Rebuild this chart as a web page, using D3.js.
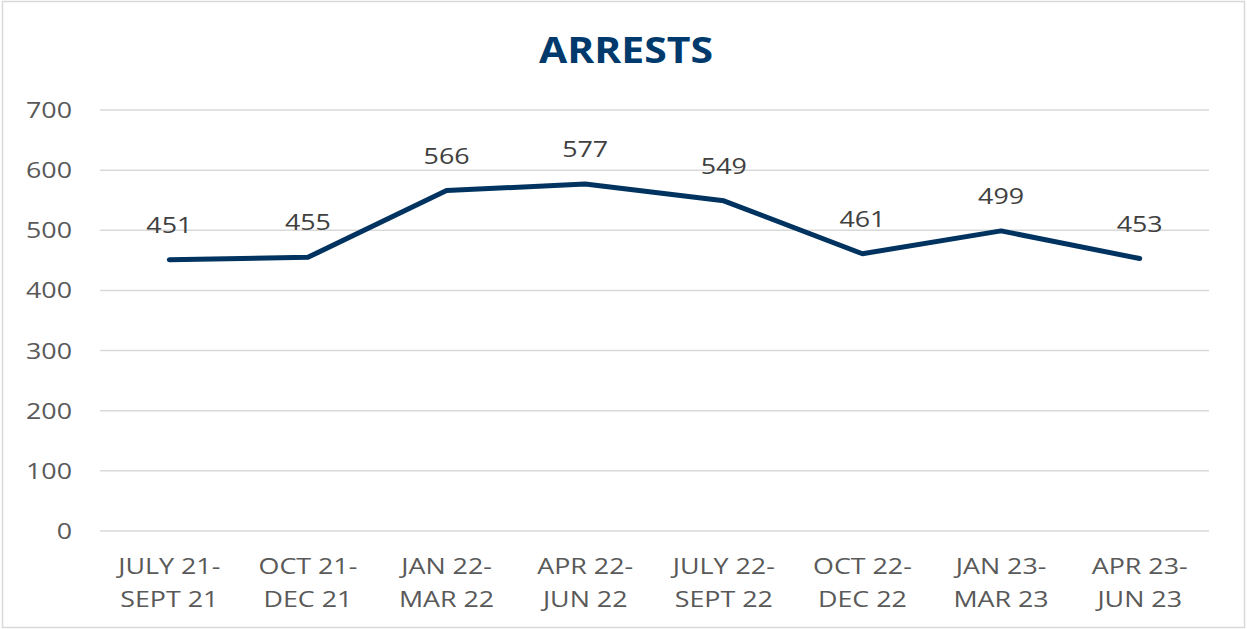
<!DOCTYPE html>
<html>
<head>
<meta charset="utf-8">
<script src="https://cdn.jsdelivr.net/npm/d3@7"></script>
<style>
  body { margin: 0; background: #fff; }
  svg { display: block; font-family: "Open Sans", "Noto Sans", sans-serif; }
</style>
</head>
<body>
<div id="chart"></div>
<script>
const periodsTop = ["JULY 21-", "OCT 21-", "JAN 22-", "APR 22-", "JULY 22-", "OCT 22-", "JAN 23-", "APR 23-"];
const periodsBottom = ["SEPT 21", "DEC 21", "MAR 22", "JUN 22", "SEPT 22", "DEC 22", "MAR 23", "JUN 23"];
const arrests = [451, 455, 566, 577, 549, 461, 499, 453];
const yTicks = [0, 100, 200, 300, 400, 500, 600, 700];

const width = 1247;
const height = 629;
const plotLeft = 100, plotRight = 1209, plotTop = 110, plotBottom = 531;
const stretch = 1.22; // text in the source is a bit wider than Open Sans

const svg = d3.select("#chart")
  .append("svg")
  .attr("width", width)
  .attr("height", height);

svg.append("rect")
  .attr("x", 2.5).attr("y", 1.5)
  .attr("width", width - 5).attr("height", height - 3)
  .attr("fill", "#fff")
  .attr("stroke", "#d9d9d9")
  .attr("stroke-width", 1.5);

const x = d3.scaleBand()
  .domain(periodsTop.map((d, i) => i))
  .range([plotLeft, plotRight]);

const y = d3.scaleLinear()
  .domain([0, 700])
  .range([plotBottom, plotTop]);

const cx = i => x(i) + x.bandwidth() / 2;
const at = (px, py) => `translate(${px},${py}) scale(${stretch},1)`;

// gridlines
svg.append("g")
  .selectAll("line")
  .data(yTicks)
  .join("line")
  .attr("x1", plotLeft)
  .attr("x2", plotRight)
  .attr("y1", d => y(d))
  .attr("y2", d => y(d))
  .attr("stroke", "#d9d9d9")
  .attr("stroke-width", 1.5);

// y labels
svg.append("g")
  .selectAll("text")
  .data(yTicks)
  .join("text")
  .attr("transform", d => at(72, y(d) + 8))
  .attr("text-anchor", "end")
  .attr("fill", "#595959")
  .attr("font-size", 22)
  .text(d => d);

// x labels
const xl = svg.append("g")
  .selectAll("g")
  .data(periodsTop.map((d, i) => i))
  .join("g")
  .attr("text-anchor", "middle")
  .attr("fill", "#595959")
  .attr("font-size", 22);
xl.append("text")
  .attr("transform", d => at(cx(d), 574))
  .text(d => periodsTop[d]);
xl.append("text")
  .attr("transform", d => at(cx(d), 607))
  .text(d => periodsBottom[d]);

// line
const line = d3.line()
  .x((d, i) => cx(i))
  .y(d => y(d));

svg.append("path")
  .datum(arrests)
  .attr("d", line)
  .attr("fill", "none")
  .attr("stroke", "#00335f")
  .attr("stroke-width", 5)
  .attr("stroke-linecap", "round")
  .attr("stroke-linejoin", "round");

// data labels
svg.append("g")
  .selectAll("text")
  .data(arrests)
  .join("text")
  .attr("transform", (d, i) => at(cx(i), y(d) - 27))
  .attr("text-anchor", "middle")
  .attr("fill", "#404040")
  .attr("font-size", 22)
  .text(d => d);

// title
svg.append("text")
  .attr("transform", `translate(626,63) scale(1.17,1)`)
  .attr("text-anchor", "middle")
  .attr("fill", "#003a6c")
  .attr("font-size", 35)
  .attr("font-weight", "bold")
  .text("ARRESTS");
</script>
</body>
</html>
